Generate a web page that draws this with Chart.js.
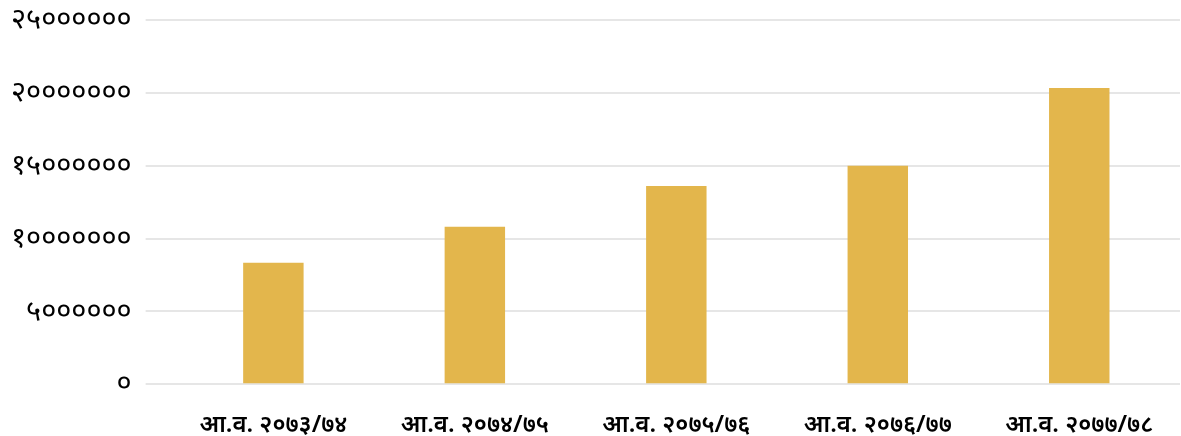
<!DOCTYPE html>
<html>
<head>
<meta charset="utf-8">
<script src="https://cdn.jsdelivr.net/npm/chart.js@4"></script>
<style>
  html, body { margin: 0; padding: 0; background: #fff; }
  #wrap { width: 1181px; height: 436px; }
</style>
</head>
<body>
<div id="wrap"><canvas id="myChart"></canvas></div>
<script>
// आर्थिक वर्ष अनुसार रकम
const barshaLabels = ['आ.व. २०७३/७४', 'आ.व. २०७४/७५', 'आ.व. २०७५/७६', 'आ.व. २०७६/७७', 'आ.व. २०७७/७८'];
const rakamValues = [8330000, 10800000, 13610000, 14990000, 20340000];
const yTickValues = [0, 5000000, 10000000, 15000000, 20000000, 25000000];

const nepaliDigits = ['०','१','२','३','४','५','६','७','८','९'];
function toNepali(n) {
  return String(n).replace(/[0-9]/g, d => nepaliDigits[d]);
}

Chart.defaults.font.family = "'Noto Sans', sans-serif";
Chart.defaults.color = '#000';

const ctx = document.getElementById('myChart');

new Chart(ctx, {
  type: 'bar',
  data: {
    labels: barshaLabels,
    datasets: [{
      label: 'रकम',
      data: rakamValues,
      backgroundColor: '#e3b64c',
      barPercentage: 0.6,
      categoryPercentage: 0.5
    }]
  },
  options: {
    responsive: true,
    maintainAspectRatio: false,
    animation: false,
    layout: { padding: { left: 4, right: 1, top: 0, bottom: -23 } },
    plugins: {
      legend: { display: false },
      tooltip: { enabled: false }
    },
    scales: {
      x: {
        grid: { display: false },
        border: { display: false },
        ticks: {
          font: { size: 24, weight: '600' },
          padding: 19
        }
      },
      y: {
        min: 0,
        max: yTickValues[yTickValues.length - 1],
        afterBuildTicks: axis => { axis.ticks = yTickValues.map(v => ({ value: v })); },
        afterFit: axis => { axis.width -= 7; axis.paddingTop = 20; },
        grid: { color: '#e6e6e6', lineWidth: 2, tickLength: 27 },
        border: { display: false },
        ticks: {
          font: { size: 29 },
          padding: 14,
          callback: v => toNepali(v)
        }
      }
    }
  }
});
</script>
</body>
</html>
